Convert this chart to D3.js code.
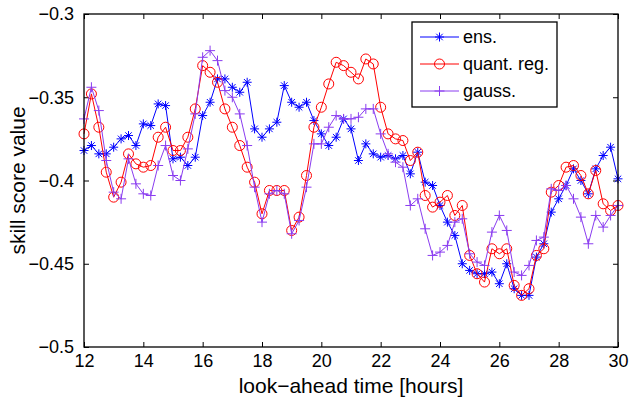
<!DOCTYPE html>
<html>
<head>
<meta charset="utf-8">
<script src="https://cdn.jsdelivr.net/npm/d3@7"></script>
<style>
  html, body { margin: 0; padding: 0; background: #fff; }
  svg { display: block; font-family: "Liberation Sans", Arial, Helvetica, sans-serif; }
</style>
</head>
<body>
<svg id="chart" width="629" height="399"></svg>
<script>
// look-ahead times (hours)
const hours = [
  12, 12.25, 12.5, 12.75, 13, 13.25, 13.5, 13.75, 14, 14.25, 14.5, 14.75,
  15, 15.25, 15.5, 15.75, 16, 16.25, 16.5, 16.75, 17, 17.25, 17.5, 17.75,
  18, 18.25, 18.5, 18.75, 19, 19.25, 19.5, 19.75, 20, 20.25, 20.5, 20.75,
  21, 21.25, 21.5, 21.75, 22, 22.25, 22.5, 22.75, 23, 23.25, 23.5, 23.75,
  24, 24.25, 24.5, 24.75, 25, 25.25, 25.5, 25.75, 26, 26.25, 26.5, 26.75,
  27, 27.25, 27.5, 27.75, 28, 28.25, 28.5, 28.75, 29, 29.25, 29.5, 29.75, 30
];

// skill score per method
const ens = [
  -0.382, -0.379, -0.384, -0.384, -0.380, -0.375, -0.373, -0.379, -0.366, -0.367, -0.354, -0.355,
  -0.387, -0.386, -0.391, -0.386, -0.361, -0.353, -0.339, -0.339, -0.344, -0.347, -0.341, -0.369,
  -0.374, -0.369, -0.365, -0.343, -0.353, -0.356, -0.353, -0.364, -0.372, -0.379, -0.374, -0.363,
  -0.369, -0.388, -0.378, -0.384, -0.386, -0.385, -0.387, -0.385, -0.396, -0.383, -0.401, -0.403,
  -0.415, -0.425, -0.433, -0.450, -0.454, -0.456, -0.456, -0.455, -0.462, -0.450, -0.465, -0.469,
  -0.469, -0.446, -0.438, -0.419, -0.411, -0.403, -0.393, -0.400, -0.408, -0.393, -0.385, -0.380, -0.399
];
const quantReg = [
  -0.372, -0.348, -0.368, -0.395, -0.410, -0.401, -0.384, -0.390, -0.392, -0.391, -0.374, -0.368,
  -0.382, -0.382, -0.374, -0.357, -0.331, -0.335, -0.341, -0.357, -0.368, -0.379, -0.392, -0.401,
  -0.420, -0.406, -0.406, -0.406, -0.430, -0.422, -0.397, -0.368, -0.356, -0.342, -0.329, -0.331,
  -0.335, -0.339, -0.327, -0.330, -0.356, -0.372, -0.375, -0.376, -0.388, -0.383, -0.409, -0.416,
  -0.413, -0.409, -0.421, -0.415, -0.445, -0.456, -0.461, -0.441, -0.444, -0.441, -0.463, -0.469,
  -0.465, -0.445, -0.441, -0.407, -0.403, -0.392, -0.391, -0.397, -0.408, -0.394, -0.414, -0.418, -0.415
];
const gauss = [
  -0.363, -0.344, -0.358, -0.388, -0.407, -0.411, -0.387, -0.402, -0.408, -0.409, -0.391, -0.379,
  -0.397, -0.400, -0.381, -0.360, -0.326, -0.322, -0.328, -0.346, -0.350, -0.360, -0.379, -0.404,
  -0.425, -0.408, -0.406, -0.408, -0.432, -0.424, -0.404, -0.378, -0.378, -0.368, -0.361, -0.363,
  -0.363, -0.362, -0.357, -0.357, -0.372, -0.384, -0.389, -0.392, -0.415, -0.411, -0.429, -0.445,
  -0.443, -0.439, -0.425, -0.423, -0.444, -0.449, -0.451, -0.431, -0.421, -0.430, -0.455, -0.457,
  -0.451, -0.436, -0.434, -0.405, -0.406, -0.403, -0.411, -0.422, -0.438, -0.421, -0.428, -0.421, -0.415
];

const seriesNames = ["ens.", "quant. reg.", "gauss."];
const seriesColors = ["#0000ff", "#ff0000", "#8a3cf0"];
const seriesMarkers = ["star", "circle", "plus"];
const seriesValues = [ens, quantReg, gauss];

const xTicks = [12, 14, 16, 18, 20, 22, 24, 26, 28, 30];
const yTicks = [-0.5, -0.45, -0.4, -0.35, -0.3];

const svg = d3.select("#chart");
const plotLeft = 84, plotRight = 618, plotTop = 14, plotBottom = 347;

const x = d3.scaleLinear().domain([12, 30]).range([plotLeft, plotRight]);
const y = d3.scaleLinear().domain([-0.5, -0.3]).range([plotBottom, plotTop]);

const fmtY = v => String(+v.toFixed(2)).replace("-", "\u2212");
const fontFamily = "Liberation Sans, Arial, sans-serif";

// axes: ticks inward, mirrored on the opposite side
svg.append("g")
  .attr("transform", `translate(0,${plotBottom})`)
  .call(d3.axisBottom(x).tickValues(xTicks).tickSizeInner(-5).tickSizeOuter(0).tickPadding(7).tickFormat(d3.format("d")))
  .call(g => g.select(".domain").remove())
  .call(g => g.selectAll("text").attr("font-size", 18).attr("fill", "#000").attr("font-family", fontFamily));
svg.append("g")
  .attr("transform", `translate(0,${plotTop})`)
  .call(d3.axisTop(x).tickValues(xTicks).tickSizeInner(-5).tickSizeOuter(0).tickFormat(""))
  .call(g => g.select(".domain").remove());
svg.append("g")
  .attr("transform", `translate(${plotLeft},0)`)
  .call(d3.axisLeft(y).tickValues(yTicks).tickSizeInner(-5).tickSizeOuter(0).tickPadding(10).tickFormat(fmtY))
  .call(g => g.select(".domain").remove())
  .call(g => g.selectAll("text").attr("font-size", 18).attr("fill", "#000").attr("font-family", fontFamily));
svg.append("g")
  .attr("transform", `translate(${plotRight},0)`)
  .call(d3.axisRight(y).tickValues(yTicks).tickSizeInner(-5).tickSizeOuter(0).tickFormat(""))
  .call(g => g.select(".domain").remove());
svg.selectAll(".tick line").attr("stroke", "#000").attr("stroke-width", 1);

// series
const line = d3.line().x((d, i) => x(hours[i])).y(d => y(d));

function drawMarker(g, type, color, size) {
  if (type === "circle") {
    g.append("circle").attr("r", size).attr("fill", "none").attr("stroke", color).attr("stroke-width", 1);
  } else if (type === "plus") {
    g.append("path").attr("d", `M${-size},0H${size}M0,${-size}V${size}`)
      .attr("stroke", color).attr("stroke-width", 1).attr("fill", "none");
  } else {
    const s = size, t = size * 0.72;
    g.append("path").attr("d", `M${-s},0H${s}M0,${-s}V${s}M${-t},${-t}L${t},${t}M${-t},${t}L${t},${-t}`)
      .attr("stroke", color).attr("stroke-width", 1).attr("fill", "none");
  }
}

const markerSize = { star: 4.5, circle: 5, plus: 5 };

seriesValues.forEach((vals, k) => {
  const g = svg.append("g");
  g.append("path").datum(vals).attr("d", line)
    .attr("fill", "none").attr("stroke", seriesColors[k]).attr("stroke-width", 1);
  g.selectAll("g.m").data(vals).join("g").attr("class", "m")
    .attr("transform", (d, i) => `translate(${x(hours[i])},${y(d)})`)
    .each(function() { drawMarker(d3.select(this), seriesMarkers[k], seriesColors[k], markerSize[seriesMarkers[k]]); });
});

// frame
svg.append("rect").attr("x", plotLeft).attr("y", plotTop).attr("width", plotRight - plotLeft).attr("height", plotBottom - plotTop)
  .attr("fill", "none").attr("stroke", "#000").attr("stroke-width", 1.3);

// legend
const lg = svg.append("g");
lg.append("rect").attr("x", 412).attr("y", 22).attr("width", 145).attr("height", 85)
  .attr("fill", "#fff").attr("stroke", "#000").attr("stroke-width", 1.3);
seriesNames.forEach((name, k) => {
  const ry = 37 + k * 27;
  lg.append("line").attr("x1", 420).attr("x2", 459).attr("y1", ry).attr("y2", ry)
    .attr("stroke", seriesColors[k]).attr("stroke-width", 1);
  drawMarker(lg.append("g").attr("transform", `translate(439.5,${ry})`), seriesMarkers[k], seriesColors[k], markerSize[seriesMarkers[k]]);
  lg.append("text").attr("x", 463).attr("y", ry).attr("dy", "0.35em")
    .attr("font-size", 18).attr("fill", "#000").text(name);
});

// axis titles
svg.append("text").attr("x", (plotLeft + plotRight) / 2).attr("y", 393)
  .attr("text-anchor", "middle").attr("font-size", 21).attr("fill", "#000")
  .text("look\u2212ahead time [hours]");
svg.append("text").attr("transform", `translate(25,${(plotTop + plotBottom) / 2}) rotate(-90)`)
  .attr("text-anchor", "middle").attr("font-size", 21).attr("fill", "#000")
  .text("skill score value");
</script>
</body>
</html>
